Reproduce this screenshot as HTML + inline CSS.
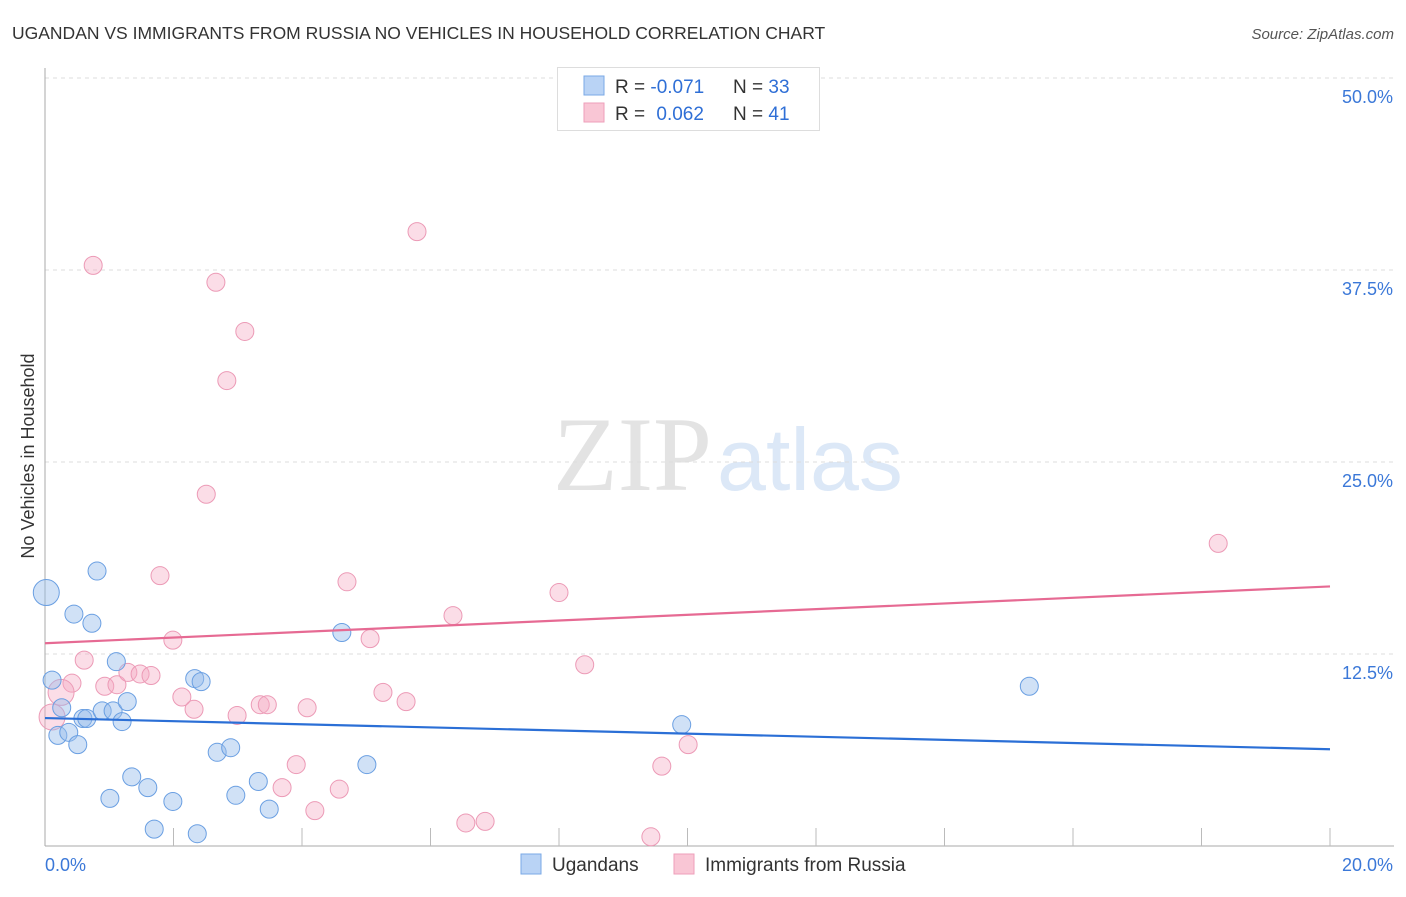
<!DOCTYPE html>
<html><head><meta charset="utf-8"><style>
body{margin:0;background:#fff;width:1406px;height:892px;overflow:hidden;font-family:"Liberation Sans",sans-serif}
</style></head><body>
<svg width="1406" height="892" xmlns="http://www.w3.org/2000/svg" font-family="Liberation Sans, sans-serif">
<text x="12" y="39" font-size="17.5" fill="#333">UGANDAN VS IMMIGRANTS FROM RUSSIA NO VEHICLES IN HOUSEHOLD CORRELATION CHART</text>
<text x="1394" y="39" font-size="15" fill="#555" font-style="italic" text-anchor="end">Source: ZipAtlas.com</text>
<g>
<text x="553" y="490" font-size="106" font-family="Liberation Serif, serif" fill="#e3e3e3">ZIP</text>
<text x="717" y="490" font-size="88" fill="#dce8f7">atlas</text>
</g>
<g id="grid"></g>
<g id="axes"></g>
<text x="34" y="456" font-size="18" fill="#333" text-anchor="middle" transform="rotate(-90 34 456)">No Vehicles in Household</text>
<g id="pts"></g>
<g id="trend"></g>
<g>
<rect x="557.5" y="67.5" width="262" height="63" fill="#fff" stroke="#ddd"/>
<rect x="584" y="76" width="20" height="19" fill="#b9d3f5" stroke="#7aa8e6"/>
<rect x="584" y="103" width="20" height="19" fill="#f9c6d5" stroke="#ee9fba"/>
<text x="615" y="93" font-size="19" fill="#333">R = <tspan fill="#2f6fd6">-0.071</tspan></text>
<text x="733" y="93" font-size="19" fill="#333">N = <tspan fill="#2f6fd6">33</tspan></text>
<text x="615" y="120" font-size="19" fill="#333">R = <tspan fill="#2f6fd6" dx="6">0.062</tspan></text>
<text x="733" y="120" font-size="19" fill="#333">N = <tspan fill="#2f6fd6">41</tspan></text>
</g>
<g>
<rect x="521" y="854" width="20" height="20" fill="#b9d3f5" stroke="#7aa8e6"/>
<text x="552" y="871" font-size="19" fill="#333">Ugandans</text>
<rect x="674" y="854" width="20" height="20" fill="#f9c6d5" stroke="#ee9fba"/>
<text x="705" y="871" font-size="19" fill="#333">Immigrants from Russia</text>
</g>
</svg>
<script>
const xTicks=[0,20];
const yTicks=[12.5,25,37.5,50];
const blueX=[0.02,0.11,0.45,0.73,0.81,1.11,0.26,0.20,0.37,0.51,0.59,0.65,0.89,1.06,1.28,1.20,1.35,1.60,1.01,1.99,1.70,2.37,2.33,2.43,2.68,2.89,2.97,3.32,3.49,4.62,5.01,9.91,15.32];
const blueY=[16.5,10.8,15.1,14.5,17.9,12.0,9.0,7.2,7.4,6.6,8.3,8.3,8.8,8.8,9.4,8.1,4.5,3.8,3.1,2.9,1.1,0.8,10.9,10.7,6.1,6.4,3.3,4.2,2.4,13.9,5.3,7.9,10.4];
const pinkX=[0.75,2.66,3.11,2.83,2.51,5.79,1.79,4.70,6.35,8.00,18.26,11.64,0.61,0.42,0.25,0.11,0.93,1.12,1.29,1.48,1.65,1.99,2.13,2.32,2.99,3.35,3.46,4.08,5.06,5.26,5.62,8.40,10.01,9.60,3.91,3.69,4.20,4.58,6.55,6.85,9.43];
const pinkY=[37.8,36.7,33.5,30.3,22.9,40.0,17.6,17.2,15.0,16.5,19.7,47.5,12.1,10.6,10.0,8.4,10.4,10.5,11.3,11.2,11.1,13.4,9.7,8.9,8.5,9.2,9.2,9.0,13.5,10.0,9.4,11.8,6.6,5.2,5.3,3.8,2.3,3.7,1.5,1.6,0.6];
const blueTrend=[8.33,6.3];
const pinkTrend=[13.2,16.9];
const NS="http://www.w3.org/2000/svg";
const X0=45,X1=1330,Y0=846,Y1=78;
const sx=v=>X0+(v-0)/20*(X1-X0);
const sy=v=>Y0-v/50*(Y0-Y1);
function mk(t,a,p){const e=document.createElementNS(NS,t);for(const k in a)e.setAttribute(k,a[k]);p.appendChild(e);return e;}
const grid=document.getElementById('grid'),axes=document.getElementById('axes');
yTicks.forEach(v=>{
 const l=mk('line',{x1:X0,x2:1393,y1:sy(v),y2:sy(v),stroke:'#ddd','stroke-dasharray':'4,4'},grid);
 
 
 const t=mk('text',{x:1393,y:sy(v)+25,'font-size':18,fill:'#3b78d8','text-anchor':'end'},axes);
 t.textContent=v.toFixed(1)+'%';
 
 
});
mk('line',{x1:X0,x2:X0,y1:68,y2:Y0,stroke:'#aaa'},axes);
mk('line',{x1:X0,x2:X1+64,y1:Y0,y2:Y0,stroke:'#aaa'},axes);
for(let i=1;i<=10;i++){const x=X0+i*(X1-X0)/10;mk('line',{x1:x,x2:x,y1:Y0-18,y2:Y0,stroke:'#bbb'},axes);}
xTicks.forEach((v,i)=>{
 const t=mk('text',{x:i==0?X0:1393,y:871,'font-size':18,fill:'#3b78d8','text-anchor':i==0?'start':'end'},axes);
 t.textContent=v.toFixed(1)+'%';
 
 
});
const pts=document.getElementById('pts');
pinkX.forEach((v,i)=>{
 const r=(i==14||i==15)?13:9;
 const c=mk('circle',{cx:sx(v),cy:sy(pinkY[i]),r:r,fill:'rgba(245,170,196,0.4)',stroke:'#ec9ab6','stroke-width':1},pts);
 
 
});
blueX.forEach((v,i)=>{
 const r=i==0?13:9;
 const c=mk('circle',{cx:sx(v),cy:sy(blueY[i]),r:r,fill:'rgba(150,188,236,0.45)',stroke:'#6a9fe2','stroke-width':1},pts);
 
 
});
const tr=document.getElementById('trend');
const bl=mk('line',{x1:sx(0),x2:sx(20),y1:sy(blueTrend[0]),y2:sy(blueTrend[1]),stroke:'#2b6fd6','stroke-width':2.2},tr);


const pl=mk('line',{x1:sx(0),x2:sx(20),y1:sy(pinkTrend[0]),y2:sy(pinkTrend[1]),stroke:'#e66a93','stroke-width':2.2},tr);


</script>
</body></html>
